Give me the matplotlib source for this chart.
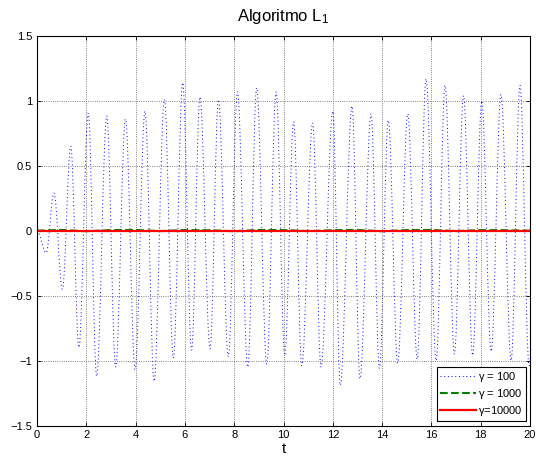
import matplotlib.pyplot as plt
from matplotlib.path import Path
from matplotlib.patches import PathPatch
from matplotlib.lines import Line2D

plt.rcParams['font.family'] = ['Liberation Sans', 'DejaVu Sans']
plt.rcParams['mathtext.fontset'] = 'custom'
plt.rcParams['mathtext.rm'] = 'Liberation Sans'
plt.rcParams['mathtext.it'] = 'Liberation Sans'

# gamma = 100: picos e vales da oscilacao
pico_t = [0.69, 1.37, 2.08, 2.83, 3.59, 4.38, 5.17, 5.91, 6.61, 7.36, 8.13, 8.91, 9.70,
          10.41, 11.18, 12.00, 12.78, 13.55, 14.25, 15.04, 15.78, 16.55, 17.30, 18.04,
          18.82, 19.59]
pico_y = [0.29, 0.65, 0.905, 0.885, 0.86, 0.92, 1.01, 1.14, 1.03, 1.01, 1.07, 1.10, 1.07,
          0.84, 0.83, 0.92, 0.96, 0.90, 0.85, 0.90, 1.17, 1.12, 1.04, 1.00, 1.05, 1.12]
vale_t = [0.37, 1.03, 1.70, 2.42, 3.19, 3.98, 4.75, 5.53, 6.27, 7.02, 7.76, 8.55, 9.32,
          10.05, 10.74, 11.52, 12.30, 13.10, 13.89, 14.63, 15.42, 16.19, 16.93, 17.67,
          18.42, 19.23, 19.96]
vale_y = [-0.17, -0.45, -0.90, -1.12, -1.05, -1.07, -1.16, -0.98, -0.92, -0.91, -0.97,
          -1.05, -1.03, -0.96, -1.04, -1.05, -1.19, -1.14, -1.06, -1.02, -0.99, -1.00,
          -0.95, -0.96, -0.93, -1.00, -1.04]
inicio = (0.0, 0.0)
fim = (20.0, -1.03)

# gamma = 1000 e gamma = 10000: praticamente nulos
g1000_t = [0, 1, 2, 3, 4, 5, 6, 7, 8, 9, 10, 11, 12, 13, 14, 15, 16, 17, 18, 19, 20]
g1000_y = [0.0, 0.006, -0.004, 0.005, 0.006, -0.003, 0.005, 0.004, -0.004, 0.006, 0.005,
           -0.003, 0.004, 0.006, -0.004, 0.005, 0.006, -0.003, 0.005, 0.004, 0.0]
g10000_t = [0, 20]
g10000_y = [0.0, 0.0]

pts = sorted([inicio, fim] + list(zip(pico_t, pico_y)) + list(zip(vale_t, vale_y)))

# curva suave entre extremos (bezier cubica com tangente horizontal nos extremos)
k = 0.36
verts = [pts[0]]
codes = [Path.MOVETO]
for (t0, y0), (t1, y1) in zip(pts[:-1], pts[1:]):
    dt = t1 - t0
    verts += [(t0 + k * dt, y0), (t1 - k * dt, y1), (t1, y1)]
    codes += [Path.CURVE4] * 3

fig = plt.figure(figsize=(5.36, 4.61), dpi=100)
ax = fig.add_axes([0.069, 0.077, 0.92, 0.845])

estilo100 = dict(color='b', linestyle=(0, (1, 2.8)), linewidth=0.7)
ax.add_patch(PathPatch(Path(verts, codes), facecolor='none', edgecolor=estilo100['color'],
                       linestyle=estilo100['linestyle'], linewidth=estilo100['linewidth']))
ax.plot(g1000_t, g1000_y, color='#007f00', linestyle='--', linewidth=1.5)
ax.plot(g10000_t, g10000_y, color='r', linestyle='-', linewidth=1.6)

ax.set_xlim(0, 20)
ax.set_ylim(-1.5, 1.5)
ax.set_xticks(range(0, 21, 2))
ax.set_yticks([-1.5, -1, -0.5, 0, 0.5, 1, 1.5])
ax.set_yticklabels(['\u22121.5', '\u22121', '\u22120.5', '0', '0.5', '1', '1.5'])
ax.grid(True, color='0.35', linestyle=':', linewidth=0.6)
ax.tick_params(direction='in', top=True, right=True, length=3, width=0.6, labelsize=8)
for s in ax.spines.values():
    s.set_linewidth(0.8)

ax.set_title(r'Algoritmo L$_1$', fontsize=12, pad=11)
ax.set_xlabel('t', fontsize=11, labelpad=1)

handles = [Line2D([], [], **estilo100),
           Line2D([], [], color='#007f00', linestyle='--', linewidth=1.5),
           Line2D([], [], color='r', linestyle='-', linewidth=1.6)]
labels = [r'$\gamma$ = 100', r'$\gamma$ = 1000', r'$\gamma$=10000']
leg = ax.legend(handles, labels, loc='lower right', fontsize=8, handlelength=3.2,
                handletextpad=0.2, borderpad=0.3, labelspacing=0.25, fancybox=False,
                framealpha=1, borderaxespad=0.4)
leg.get_frame().set_edgecolor('black')
leg.get_frame().set_linewidth(0.8)

fig.savefig('out.png', dpi=100)
